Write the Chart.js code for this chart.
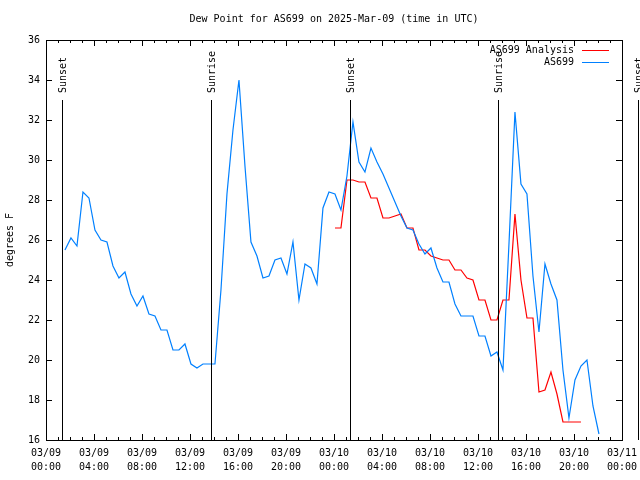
<!DOCTYPE html>
<html>
<head>
<meta charset="utf-8">
<title>Dew Point for AS699</title>
<script src="https://cdn.jsdelivr.net/npm/chart.js@4.4.1/dist/chart.umd.min.js"></script>
<style>
  html, body { margin: 0; padding: 0; background: #fff; }
  canvas { display: block; }
</style>
</head>
<body>
<canvas id="dewChart" width="640" height="480"></canvas>
<script>
// observation times, hours since 03/09 00:00 UTC
const obsHours = [
    1.58, 2.08, 2.58, 3.08, 3.58, 4.08, 4.58, 5.08, 5.58, 6.08,
    6.58, 7.08, 7.58, 8.08, 8.58, 9.08, 9.58, 10.08, 10.58, 11.08,
    11.58, 12.08, 12.58, 13.08, 13.58, 14.08, 14.58, 15.08, 15.58, 16.08,
    16.58, 17.08, 17.58, 18.08, 18.58, 19.08, 19.58, 20.08, 20.58, 21.08,
    21.58, 22.08, 22.58, 23.08, 23.58, 24.08, 24.58, 25.08, 25.58, 26.08,
    26.58, 27.08, 27.58, 28.08, 28.58, 29.08, 29.58, 30.08, 30.58, 31.08,
    31.58, 32.08, 32.58, 33.08, 33.58, 34.08, 34.58, 35.08, 35.58, 36.08,
    36.58, 37.08, 37.58, 38.08, 38.58, 39.08, 39.58, 40.08, 40.58, 41.08,
    41.58, 42.08, 42.58, 43.08, 43.58, 44.08, 44.58, 45.08, 45.58, 46.08
];
// AS699 station dew point (F)
const as699 = [
    25.5, 26.1, 25.7, 28.4, 28.1, 26.5, 26.0, 25.9, 24.7, 24.1,
    24.4, 23.3, 22.7, 23.2, 22.3, 22.2, 21.5, 21.5, 20.5, 20.5,
    20.8, 19.8, 19.6, 19.8, 19.8, 19.8, 23.5, 28.3, 31.5, 34.0,
    29.7, 25.9, 25.2, 24.1, 24.2, 25.0, 25.1, 24.3, 25.9, 23.0,
    24.8, 24.6, 23.8, 27.6, 28.4, 28.3, 27.5, 29.2, 31.9, 29.9,
    29.4, 30.6, 29.9, 29.3, 28.6, 27.9, 27.2, 26.6, 26.5, 25.8,
    25.3, 25.6, 24.6, 23.9, 23.9, 22.8, 22.2, 22.2, 22.2, 21.2,
    21.2, 20.2, 20.4, 19.5, 25.8, 32.4, 28.8, 28.3, 24.2, 21.4,
    24.8, 23.8, 23.0, 19.5, 17.1, 19.0, 19.7, 20.0, 17.7, 16.3
];
// analysis times and values
const analysisHours = [
    24.08, 24.58, 25.08, 25.58, 26.08, 26.58, 27.08, 27.58, 28.08, 28.58,
    29.08, 29.58, 30.08, 30.58, 31.08, 31.58, 32.08, 32.58, 33.08, 33.58,
    34.08, 34.58, 35.08, 35.58, 36.08, 36.58, 37.08, 37.58, 38.08, 38.58,
    39.08, 39.58, 40.08, 40.58, 41.08, 41.58, 42.08, 42.58, 43.08, 43.58,
    44.08, 44.58
];
const analysis = [
    26.6, 26.6, 29.0, 29.0, 28.9, 28.9, 28.1, 28.1, 27.1, 27.1,
    27.2, 27.3, 26.6, 26.6, 25.5, 25.5, 25.2, 25.1, 25.0, 25.0,
    24.5, 24.5, 24.1, 24.0, 23.0, 23.0, 22.0, 22.0, 23.0, 23.0,
    27.3, 24.0, 22.1, 22.1, 18.4, 18.5, 19.4, 18.3, 16.9, 16.9,
    16.9, 16.9
];
// x axis labels, one every 4 hours
const xTickLabels = [
    ['03/09', '00:00'], ['03/09', '04:00'], ['03/09', '08:00'], ['03/09', '12:00'],
    ['03/09', '16:00'], ['03/09', '20:00'], ['03/10', '00:00'], ['03/10', '04:00'],
    ['03/10', '08:00'], ['03/10', '12:00'], ['03/10', '16:00'], ['03/10', '20:00'],
    ['03/11', '00:00']
];
// sunrise / sunset markers
const sunHours = [1.33, 13.75, 25.33, 37.7, 49.33];
const sunLabels = ['Sunset', 'Sunrise', 'Sunset', 'Sunrise', 'Sunset'];

const FONT = '"DejaVu Sans Mono", "Liberation Mono", monospace';

// gnuplot style frame, inward ticks, sun lines, legend and titles
const framePlugin = {
    id: 'framePlugin',
    beforeDraw(chart) {
        const ctx = chart.ctx;
        ctx.save();
        ctx.fillStyle = '#fff';
        ctx.fillRect(0, 0, chart.width, chart.height);
        ctx.restore();
    },
    afterDatasetsDraw(chart) {
        const ctx = chart.ctx;
        const area = chart.chartArea;
        const xs = chart.scales.x;
        const ys = chart.scales.y;
        ctx.save();
        ctx.strokeStyle = '#000';
        ctx.fillStyle = '#000';
        ctx.lineWidth = 1;
        ctx.strokeRect(Math.round(area.left) + 0.5, Math.round(area.top) + 0.5,
            Math.round(area.right - area.left), Math.round(area.bottom - area.top));

        ctx.beginPath();
        for (let h = xs.min; h <= xs.max; h++) {
            const px = Math.round(xs.getPixelForValue(h)) + 0.5;
            const len = h % 4 === 0 ? 6 : 3;
            ctx.moveTo(px, area.bottom);
            ctx.lineTo(px, area.bottom - len);
            ctx.moveTo(px, area.top);
            ctx.lineTo(px, area.top + len);
        }
        ys.ticks.forEach(t => {
            const py = Math.round(ys.getPixelForValue(t.value)) + 0.5;
            ctx.moveTo(area.left, py);
            ctx.lineTo(area.left + 6, py);
            ctx.moveTo(area.right, py);
            ctx.lineTo(area.right - 6, py);
        });
        ctx.stroke();

        ctx.font = '10px ' + FONT;
        const lineTop = ys.getPixelForValue(33);
        sunHours.forEach((h, i) => {
            const px = Math.round(xs.getPixelForValue(h)) + 0.5;
            ctx.beginPath();
            ctx.moveTo(px, lineTop);
            ctx.lineTo(px, area.bottom);
            ctx.stroke();
            ctx.save();
            ctx.translate(px + 1, lineTop - 7);
            ctx.rotate(-Math.PI / 2);
            ctx.textAlign = 'left';
            ctx.textBaseline = 'middle';
            ctx.fillText(sunLabels[i], 0, 0);
            ctx.restore();
        });

        // legend inside top right corner
        ctx.textAlign = 'right';
        ctx.textBaseline = 'middle';
        chart.data.datasets.forEach((ds, i) => {
            const ly = area.top + 10 + i * 12;
            ctx.fillStyle = '#000';
            ctx.fillText(ds.label, area.right - 48, ly);
            ctx.strokeStyle = ds.borderColor;
            ctx.beginPath();
            ctx.moveTo(area.right - 40, ly + 0.5);
            ctx.lineTo(area.right - 13, ly + 0.5);
            ctx.stroke();
        });

        ctx.fillStyle = '#000';
        ctx.textAlign = 'center';
        ctx.fillText('Dew Point for AS699 on 2025-Mar-09 (time in UTC)', (area.left + area.right) / 2, 19);
        ctx.translate(10, (area.top + area.bottom) / 2);
        ctx.rotate(-Math.PI / 2);
        ctx.fillText('degrees F', 0, 0);
        ctx.restore();
    }
};

new Chart(document.getElementById('dewChart'), {
    type: 'line',
    data: {
        datasets: [{
            label: 'AS699 Analysis',
            data: analysisHours.map((h, i) => ({ x: h, y: analysis[i] })),
            borderColor: '#ff0000',
            borderWidth: 1.2,
            pointRadius: 0,
            tension: 0,
            order: 1
        }, {
            label: 'AS699',
            data: obsHours.map((h, i) => ({ x: h, y: as699[i] })),
            borderColor: '#0080ff',
            borderWidth: 1.2,
            pointRadius: 0,
            tension: 0,
            order: 0
        }]
    },
    options: {
        responsive: false,
        animation: false,
        layout: { padding: { top: 40, right: 18, bottom: 0, left: 0 } },
        plugins: {
            legend: { display: false },
            title: { display: false },
            tooltip: { enabled: false }
        },
        scales: {
            x: {
                type: 'linear',
                min: 0,
                max: 48,
                afterFit: s => {
                    s.height = 40;
                    s.paddingLeft = 0;
                    s.paddingRight = 0;
                },
                grid: { display: false, drawTicks: false },
                border: { display: false },
                ticks: {
                    stepSize: 4,
                    autoSkip: false,
                    maxRotation: 0,
                    padding: 6,
                    color: '#000',
                    font: { family: FONT, size: 10, lineHeight: 1.4 },
                    callback: (v, i) => xTickLabels[i]
                }
            },
            y: {
                min: 16,
                max: 36,
                afterFit: s => {
                    s.width = 46;
                    s.paddingTop = 0;
                    s.paddingBottom = 0;
                },
                grid: { display: false, drawTicks: false },
                border: { display: false },
                ticks: {
                    stepSize: 2,
                    padding: 6,
                    color: '#000',
                    font: { family: FONT, size: 10 }
                }
            }
        }
    },
    plugins: [framePlugin]
});
</script>
</body>
</html>
